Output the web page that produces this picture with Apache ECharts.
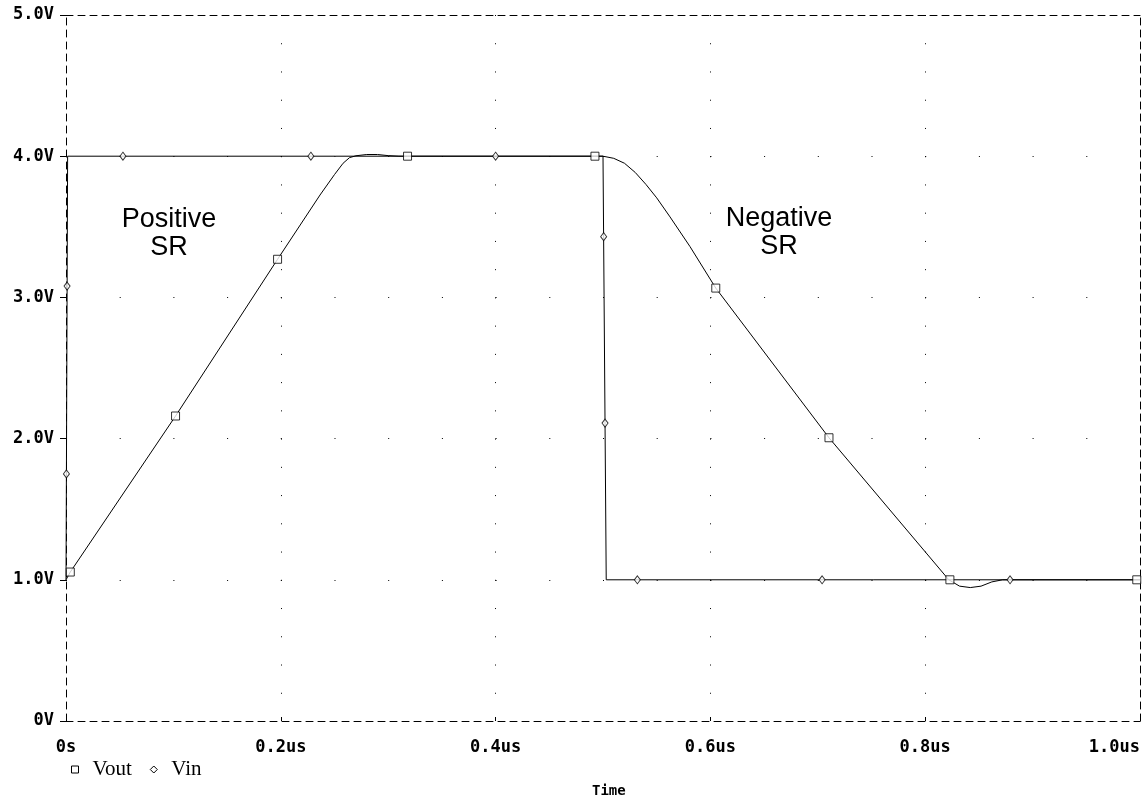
<!DOCTYPE html>
<html>
<head>
    <meta charset="utf-8">
    <title>Slew rate</title>
    <script src="https://cdn.jsdelivr.net/npm/echarts@6/dist/echarts.min.js"></script>
    <style>
        html, body { margin: 0; padding: 0; background: #fff; }
        #chart { width: 1148px; height: 806px; }
    </style>
</head>
<body>
    <div id="chart"></div>
    <script type="text/javascript">
        // time in us, voltage in V
        var voutTime = [0, 0.004, 0.102, 0.197, 0.2365, 0.25, 0.258, 0.264, 0.27, 0.28, 0.29, 0.30, 0.31, 0.318, 0.4925,
            0.5, 0.51, 0.52, 0.53, 0.54, 0.55, 0.5624, 0.581, 0.605, 0.7104, 0.822,
            0.832, 0.842, 0.852, 0.862, 0.872, 1.0];
        var voutVolt = [1.0, 1.055, 2.16, 3.27, 3.725, 3.87, 3.95, 3.99, 4.003, 4.012, 4.012, 4.004, 4.0, 4.0, 4.0,
            4.0, 3.985, 3.95, 3.885, 3.8, 3.705, 3.57, 3.36, 3.066, 2.006, 1.0,
            0.955, 0.945, 0.955, 0.985, 1.0, 1.0];

        var vinTime = [0, 0.0015, 0.5, 0.503, 1.0];
        var vinVolt = [1.0, 4.0, 4.0, 1.0, 1.0];

        // marker positions along each trace
        var voutMarkTime = [0.004, 0.102, 0.197, 0.318, 0.4925, 0.605, 0.7104, 0.823, 0.997];
        var voutMarkVolt = [1.055, 2.16, 3.27, 4.0, 4.0, 3.066, 2.006, 1.0, 1.0];
        var vinMarkTime = [0.0004, 0.001, 0.053, 0.228, 0.400, 0.5006, 0.5019, 0.532, 0.704, 0.879];
        var vinMarkVolt = [1.75, 3.08, 4.0, 4.0, 4.0, 3.43, 2.11, 1.0, 1.0, 1.0];

        var xTickLabels = ['0s', '0.2us', '0.4us', '0.6us', '0.8us', '1.0us'];
        var yTickLabels = ['0V', '1.0V', '2.0V', '3.0V', '4.0V', '5.0V'];

        function pairs(xs, ys) {
            var out = [];
            for (var i = 0; i < xs.length; i++) out.push([xs[i], ys[i]]);
            return out;
        }

        var myChart = echarts.init(document.getElementById('chart'));

        var labelFont = {
            fontFamily: 'DejaVu Sans Mono',
            fontWeight: 'bold',
            fontSize: 17,
            color: '#000'
        };
        var border = { show: true, onZero: false, lineStyle: { color: '#000', width: 1, type: [7, 5] } };
        var markStyle = { color: '#fff', borderColor: '#000', borderWidth: 1 };

        var option = {
            animation: false,
            backgroundColor: '#fff',
            grid: { left: 66, right: 8, top: 15, bottom: 85 },
            legend: {
                left: 66,
                top: 754,
                itemWidth: 7,
                itemHeight: 7,
                itemGap: 18,
                itemStyle: markStyle,
                textStyle: {
                    fontFamily: 'Liberation Serif',
                    fontSize: 21,
                    color: '#000',
                    padding: [0, 0, 0, 9]
                },
                data: [
                    { name: 'Vout', icon: 'rect' },
                    { name: 'Vin', icon: 'diamond' }
                ]
            },
            xAxis: [{
                type: 'value',
                min: 0,
                max: 1.0,
                interval: 0.2,
                position: 'bottom',
                axisLine: border,
                axisTick: { show: true, inside: true, length: 4, lineStyle: { color: '#000' } },
                axisLabel: Object.assign({
                    margin: 18,
                    alignMinLabel: 'center',
                    alignMaxLabel: 'right',
                    formatter: function (v) { return xTickLabels[Math.round(v / 0.2)]; }
                }, labelFont),
                splitLine: {
                    show: true,
                    showMinLine: false,
                    showMaxLine: false,
                    lineStyle: { color: '#000', width: 1, type: [1, 27.24] }
                }
            }, {
                type: 'value',
                min: 0,
                max: 1.0,
                position: 'top',
                axisLine: border,
                axisTick: { show: false },
                axisLabel: { show: false },
                splitLine: { show: false }
            }],
            yAxis: [{
                type: 'value',
                min: 0,
                max: 5,
                interval: 1,
                position: 'left',
                axisLine: border,
                axisTick: { show: true, inside: false, length: 6, lineStyle: { color: '#000' } },
                axisLabel: Object.assign({
                    margin: 12,
                    formatter: function (v) { return yTickLabels[Math.round(v)]; }
                }, labelFont),
                splitLine: {
                    show: true,
                    showMinLine: false,
                    showMaxLine: false,
                    lineStyle: { color: '#000', width: 1, type: [1, 52.7] }
                }
            }, {
                type: 'value',
                min: 0,
                max: 5,
                position: 'right',
                axisLine: border,
                axisTick: { show: false },
                axisLabel: { show: false },
                splitLine: { show: false }
            }],
            graphic: [{
                type: 'text',
                left: 592,
                top: 784,
                style: {
                    text: 'Time',
                    font: 'bold 14px "DejaVu Sans Mono"',
                    fill: '#000',
                    textAlign: 'center'
                }
            }, {
                type: 'text',
                x: 169,
                y: 206,
                style: {
                    text: 'Positive\nSR',
                    font: '27px "Liberation Sans"',
                    lineHeight: 28,
                    fill: '#000',
                    textAlign: 'center'
                }
            }, {
                type: 'text',
                x: 779,
                y: 205,
                style: {
                    text: 'Negative\nSR',
                    font: '27px "Liberation Sans"',
                    lineHeight: 28,
                    fill: '#000',
                    textAlign: 'center'
                }
            }],
            series: [{
                name: 'Vout',
                type: 'line',
                showSymbol: false,
                lineStyle: { color: '#000', width: 1 },
                itemStyle: markStyle,
                data: pairs(voutTime, voutVolt),
                z: 3
            }, {
                name: 'Vin',
                type: 'line',
                showSymbol: false,
                lineStyle: { color: '#000', width: 1 },
                itemStyle: markStyle,
                data: pairs(vinTime, vinVolt),
                z: 3
            }, {
                name: 'Vout',
                type: 'scatter',
                symbol: 'rect',
                symbolSize: 8,
                itemStyle: markStyle,
                data: pairs(voutMarkTime, voutMarkVolt),
                z: 4
            }, {
                name: 'Vin',
                type: 'scatter',
                symbol: 'diamond',
                symbolSize: [6, 8],
                itemStyle: markStyle,
                data: pairs(vinMarkTime, vinMarkVolt),
                z: 4
            }]
        };

        myChart.setOption(option);
    </script>
</body>
</html>
